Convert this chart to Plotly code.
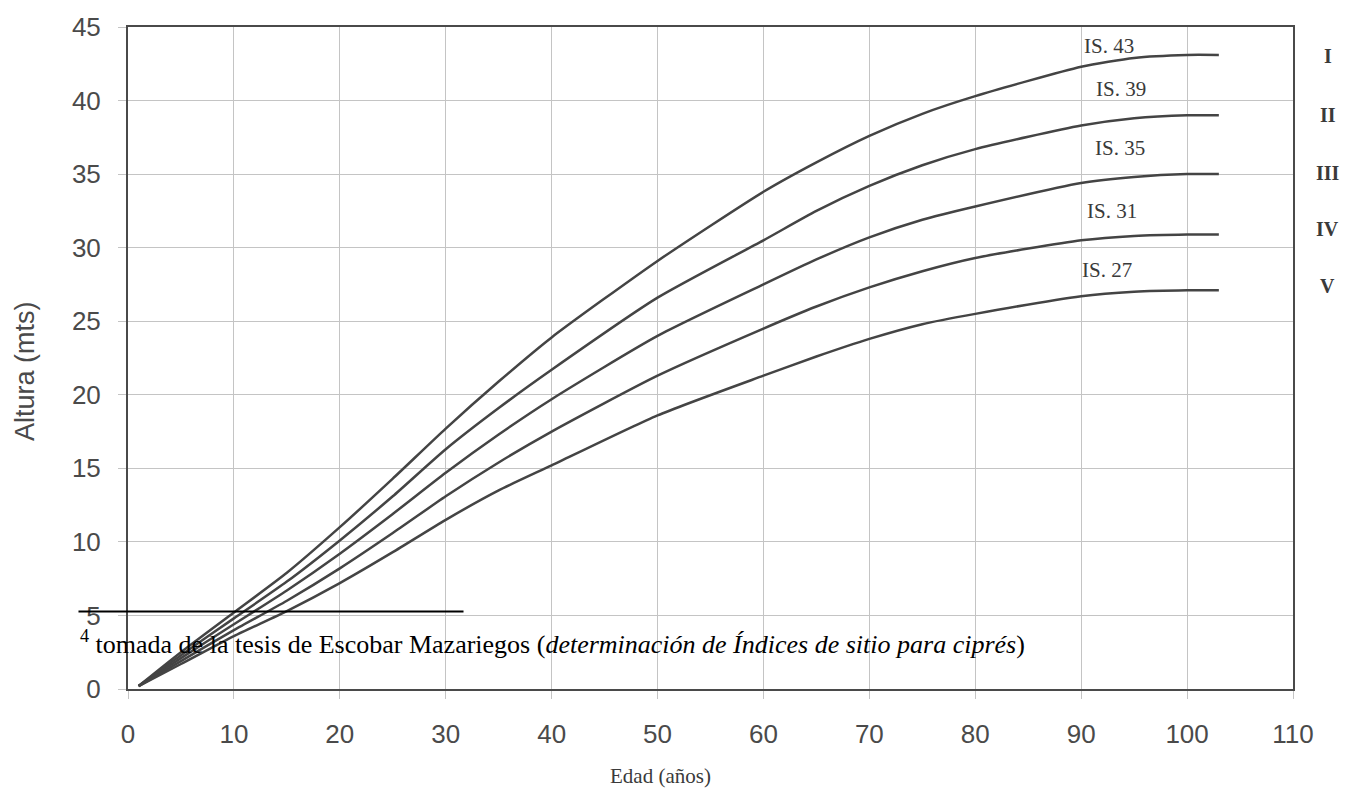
import plotly.graph_objects as go

# Edad (años)
ages = [1, 5, 10, 15, 20, 25, 30, 35, 40, 50, 60, 65, 70, 75, 80, 90, 95, 100, 103]
# Altura (mts) por índice de sitio
is43 = [0.2, 2.5, 5.2, 7.9, 11.0, 14.3, 17.7, 20.9, 23.9, 29.1, 33.8, 35.8, 37.6, 39.1, 40.3, 42.3, 42.9, 43.1, 43.1]
is39 = [0.2, 2.3, 4.8, 7.3, 10.1, 13.1, 16.3, 19.1, 21.7, 26.6, 30.5, 32.5, 34.2, 35.6, 36.7, 38.3, 38.8, 39.0, 39.0]
is35 = [0.2, 2.1, 4.4, 6.7, 9.2, 11.9, 14.7, 17.3, 19.7, 24.0, 27.5, 29.2, 30.7, 31.9, 32.8, 34.4, 34.8, 35.0, 35.0]
is31 = [0.2, 1.9, 4.0, 6.0, 8.2, 10.6, 13.1, 15.4, 17.5, 21.3, 24.5, 26.0, 27.3, 28.4, 29.3, 30.5, 30.8, 30.9, 30.9]
is27 = [0.2, 1.7, 3.6, 5.3, 7.2, 9.3, 11.5, 13.5, 15.2, 18.6, 21.3, 22.6, 23.8, 24.8, 25.5, 26.7, 27.0, 27.1, 27.1]

series = [is43, is39, is35, is31, is27]
curve_labels = ["IS. 43", "IS. 39", "IS. 35", "IS. 31", "IS. 27"]
label_x = [90.1, 91.2, 91.1, 90.4, 89.9]
label_y = [43.7, 40.8, 36.8, 32.5, 28.5]
classes = ["I", "II", "III", "IV", "V"]
class_y = [43.0, 39.0, 35.1, 31.3, 27.4]

x_ticks = list(range(0, 111, 10))
y_ticks = list(range(0, 46, 5))

fig = go.Figure()
for vals, name in zip(series, curve_labels):
    fig.add_trace(go.Scatter(
        x=ages, y=vals, mode="lines", name=name,
        line=dict(color="#444444", width=2.5, shape="spline", smoothing=0.6),
        showlegend=False, hoverinfo="x+y"))

serif = "Liberation Serif, Times New Roman, serif"
sans = "Liberation Sans, Arial, sans-serif"

annotations = []
for lx, ly, t in zip(label_x, label_y, curve_labels):
    annotations.append(dict(x=lx, y=ly, xref="x", yref="y", text=t, showarrow=False,
                            xanchor="left", yanchor="middle",
                            font=dict(family=serif, size=21, color="#3a3a3a")))
for cy, t in zip(class_y, classes):
    annotations.append(dict(x=1.03, y=cy, xref="paper", yref="y", text="<b>" + t + "</b>",
                            showarrow=False, xanchor="center", yanchor="middle",
                            font=dict(family=serif, size=20, color="#3a3a3a")))
annotations.append(dict(x=-0.0889, y=0.481, xref="paper", yref="paper", text="Altura (mts)",
                        textangle=-90, showarrow=False, xanchor="center", yanchor="middle",
                        font=dict(family=sans, size=27, color="#4a4a4a")))
annotations.append(dict(x=0.4575, y=-0.132, xref="paper", yref="paper", text="Edad (años)",
                        showarrow=False, xanchor="center", yanchor="middle",
                        font=dict(family=serif, size=21, color="#3a3a3a")))
annotations.append(dict(x=-0.0425, y=0.0705, xref="paper", yref="paper",
                        text="<sup>4</sup> tomada de la tesis de Escobar Mazariegos (<i>determinación de Índices de sitio para ciprés</i>)",
                        showarrow=False, xanchor="left", yanchor="middle",
                        font=dict(family=serif, size=26, color="#000000")))

fig.update_layout(
    width=1357, height=789,
    margin=dict(l=128, r=64, t=22, b=100),
    paper_bgcolor="white", plot_bgcolor="white",
    annotations=annotations,
    shapes=[dict(type="line", xref="paper", yref="paper", x0=-0.0425, x1=0.288,
                 y0=0.117, y1=0.117, line=dict(color="black", width=2))],
)
fig.update_xaxes(range=[0, 110], tickvals=x_ticks, ticktext=[str(v) for v in x_ticks],
                 showgrid=True, gridcolor="#c4c4c4", gridwidth=1,
                 showline=True, linecolor="#4a4a4a", linewidth=2, mirror=True,
                 ticks="outside", ticklen=8, tickcolor="#c4c4c4", ticklabelstandoff=13,
                 zeroline=False,
                 tickfont=dict(family=sans, size=26, color="#4a4a4a"))
fig.update_yaxes(range=[0, 45], tickvals=y_ticks, ticktext=[str(v) for v in y_ticks],
                 showgrid=True, gridcolor="#c4c4c4", gridwidth=1,
                 showline=True, linecolor="#4a4a4a", linewidth=2, mirror=True,
                 ticks="outside", ticklen=8, tickcolor="#c4c4c4", ticklabelstandoff=12,
                 zeroline=False,
                 tickfont=dict(family=sans, size=26, color="#4a4a4a"))

fig.write_html("out.html", config={"displayModeBar": False},
               post_script="document.body.style.margin='0';document.body.style.overflow='hidden';")
